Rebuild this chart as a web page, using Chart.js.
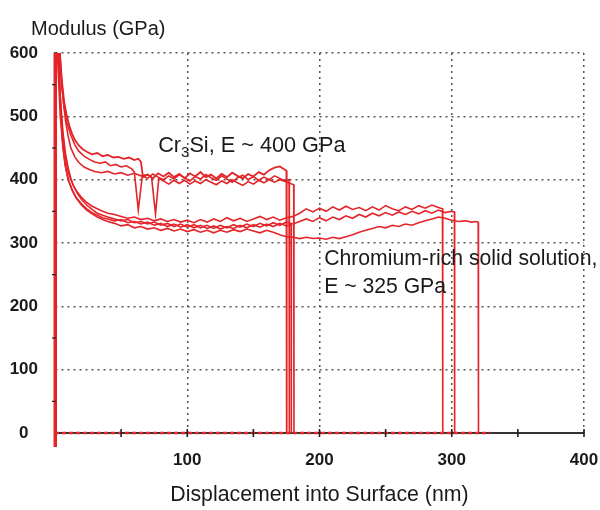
<!DOCTYPE html>
<html>
<head>
<meta charset="utf-8">
<script src="https://cdn.jsdelivr.net/npm/chart.js@4.4.1/dist/chart.umd.min.js"></script>
<style>
  html, body { margin: 0; padding: 0; background: #ffffff; }
  #wrap { width: 600px; height: 510px; position: relative; }
</style>
</head>
<body>
<div id="wrap"><canvas id="c" width="600" height="510"></canvas></div>
<script>
// ---- Text ----
const yTitle = 'Modulus (GPa)';
const xTitle = 'Displacement into Surface (nm)';
const noteCrMain = ['Cr', '3', 'Si, E ~ 400 GPa'];
const noteSolid = ['Chromium-rich solid solution,', 'E ~ 325 GPa'];
const noteCrAt = [78, 444];      // data coords (nm, GPa) of left baseline
const noteSolidAt = [203.5, 265, 221];

// ---- Axis ticks ----
const xTickValues = [100, 200, 300, 400];
const yTickValues = [0, 100, 200, 300, 400, 500, 600];
const xMinorMarks = [50, 100, 150, 200, 250, 300, 350, 400];
const yMinorMarks = [50, 150, 250, 350, 450, 550];

// ---- loading spike at the surface ----
const spikeX = [0.2, 0.2];
const spikeY = [-22, 700];

// ---- Cr3Si curves (~400 GPa) ----
const a1X = [1.2, 3, 5, 7, 9, 11, 13, 15, 18, 21, 24, 28, 32, 36, 40, 44, 48, 52, 56, 60, 63, 65, 66.5, 70, 74, 78, 82, 86, 90, 94, 98, 102, 106, 110, 114, 118, 122, 126, 130, 134, 138, 142, 146, 150, 154, 158, 162, 166, 170, 173, 175, 175.2];
const a1Y = [700, 620, 560, 522, 500, 484, 472, 463, 454, 448, 444, 440, 442, 437, 439, 435, 436, 433, 435, 431, 433, 428, 404, 408, 402, 410, 405, 411, 404, 409, 402, 410, 405, 412, 404, 408, 402, 409, 404, 411, 406, 402, 409, 405, 412, 408, 415, 419, 421, 417, 414, 0];
const a2X = [0.9, 3, 5, 7, 9, 12, 15, 18, 22, 26, 30, 34, 38, 42, 46, 50, 54, 58, 60, 63, 66, 70, 74, 78, 82, 86, 90, 94, 98, 102, 106, 110, 114, 118, 122, 126, 130, 134, 138, 142, 146, 150, 154, 158, 162, 166, 170, 174, 177, 177.2];
const a2Y = [700, 605, 550, 512, 490, 470, 455, 445, 437, 432, 428, 426, 428, 422, 424, 420, 422, 417, 412, 352, 406, 402, 409, 404, 400, 406, 401, 408, 403, 398, 405, 401, 408, 403, 399, 406, 401, 396, 403, 407, 400, 405, 399, 404, 400, 406, 402, 398, 400, 0];
const a3X = [2.5, 4, 6, 8, 10, 12, 15, 18, 22, 26, 30, 35, 40, 45, 50, 55, 60, 65, 70, 73, 76, 78.5, 82, 86, 90, 94, 98, 102, 106, 110, 114, 118, 122, 126, 130, 134, 138, 142, 146, 150, 154, 158, 162, 166, 170, 174, 178, 180.5, 180.7];
const a3Y = [700, 590, 530, 493, 468, 450, 436, 427, 420, 416, 413, 411, 413, 409, 411, 407, 410, 406, 408, 404, 346, 402, 398, 393, 399, 394, 399, 393, 398, 394, 400, 396, 392, 398, 394, 400, 395, 391, 397, 393, 399, 395, 400, 396, 400, 397, 394, 392, 0];

// ---- Chromium-rich solid solution curves (~325 GPa) ----
const b1X = [1, 2.5, 4, 6, 8, 10, 12, 14, 17, 20, 24, 28, 32, 36, 40, 45, 50, 55, 60, 65, 70, 75, 80, 85, 90, 95, 100, 105, 110, 115, 120, 125, 130, 135, 140, 145, 150, 155, 160, 165, 170, 175, 180, 185, 190, 195, 200, 205, 210, 215, 220, 225, 230, 235, 240, 245, 250, 255, 260, 265, 270, 275, 280, 285, 290, 293, 293.2];
const b1Y = [700, 610, 530, 475, 440, 418, 402, 390, 380, 372, 364, 358, 354, 350, 347, 345, 342, 339, 341, 337, 339, 335, 338, 334, 337, 333, 336, 332, 337, 333, 338, 334, 340, 335, 339, 334, 338, 342, 337, 341, 336, 340, 342, 347, 354, 349, 355, 350, 357, 352, 358, 353, 356, 351, 357, 352, 359, 354, 351, 357, 353, 359, 355, 360, 356, 354, 0];
const b2X = [1.5, 3, 5, 7, 9, 11, 14, 17, 20, 24, 28, 32, 36, 40, 45, 50, 55, 60, 65, 70, 75, 80, 85, 90, 95, 100, 105, 110, 115, 120, 125, 130, 135, 140, 145, 150, 155, 160, 165, 170, 175, 180, 185, 190, 195, 200, 205, 210, 215, 220, 225, 230, 235, 240, 245, 250, 255, 260, 265, 270, 275, 280, 285, 290, 295, 300, 302, 302.2];
const b2Y = [700, 570, 490, 448, 422, 405, 390, 378, 369, 360, 353, 347, 344, 341, 338, 335, 337, 332, 334, 330, 333, 328, 331, 326, 330, 325, 329, 324, 328, 323, 328, 324, 329, 325, 330, 326, 331, 327, 332, 328, 333, 330, 334, 338, 334, 340, 335, 341, 337, 343, 339, 345, 341, 347, 343, 348, 344, 349, 345, 350, 346, 351, 347, 352, 348, 350, 349, 0];
const b3X = [2, 3.5, 5.5, 7.5, 10, 13, 16, 20, 24, 28, 32, 36, 40, 45, 50, 55, 60, 65, 70, 75, 80, 85, 90, 95, 100, 105, 110, 115, 120, 125, 130, 135, 140, 145, 150, 155, 160, 165, 170, 175, 180, 185, 190, 195, 200, 205, 210, 215, 220, 225, 230, 235, 240, 245, 250, 255, 260, 265, 270, 275, 280, 285, 290, 295, 300, 305, 310, 315, 318, 320, 320.2];
const b3Y = [700, 545, 465, 425, 400, 383, 371, 360, 352, 346, 341, 337, 334, 331, 327, 329, 324, 326, 322, 324, 320, 323, 319, 322, 318, 321, 317, 320, 316, 320, 317, 321, 318, 322, 319, 316, 320, 317, 313, 310, 309, 307, 309, 307, 308, 306, 309, 307, 310, 313, 317, 320, 323, 326, 324, 328, 326, 330, 328, 332, 335, 338, 341, 339, 336, 334, 335, 333, 334, 333, 0];
const b4X = [1, 2, 4, 6, 8, 10, 13, 16, 20, 24, 28, 32, 36, 40, 45, 50, 55, 60, 65, 70, 75, 80, 85, 90, 95, 100, 105, 110, 115, 120, 125, 130, 135, 140, 145, 150, 155, 160, 165, 170, 175, 178.5, 178.7];
const b4Y = [700, 590, 500, 450, 420, 400, 384, 372, 362, 354, 348, 344, 340, 338, 335, 337, 332, 334, 330, 333, 328, 331, 326, 330, 325, 329, 324, 328, 323, 327, 322, 326, 323, 328, 324, 329, 325, 330, 326, 331, 327, 329, 0];

// ---- red trace lying on the zero line ----
const baseX = [0, 329];
const baseY = [0, 0];

const RED = 'rgb(228, 36, 40)';
const FONT = '"Liberation Sans", Arial, Helvetica, sans-serif';

function pts(xs, ys) { return xs.map((v, i) => ({ x: v, y: ys[i] })); }
function curve(xs, ys, w) {
  return {
    data: pts(xs, ys), borderColor: RED, borderWidth: w || 1.6,
    showLine: true, pointRadius: 0, tension: 0, fill: false,
    clip: { left: 6, top: 0, right: 0, bottom: 16 }
  };
}

const datasets = [
  Object.assign(curve(baseX, baseY, 2.4), { borderDash: [4, 3] }),
  curve(spikeX, spikeY, 3.5),
  curve(b4X, b4Y), curve(b3X, b3Y), curve(b2X, b2Y), curve(b1X, b1Y),
  curve(a3X, a3Y), curve(a2X, a2Y), curve(a1X, a1Y, 1.8)
];

const decor = {
  id: 'decor',
  afterDatasetsDraw(chart) {
    const { ctx, scales: { x, y } } = chart;
    ctx.save();
    ctx.strokeStyle = '#222';
    ctx.lineWidth = 1.6;
    const yb = y.getPixelForValue(0);
    xMinorMarks.forEach(v => {
      const px = x.getPixelForValue(v);
      ctx.beginPath(); ctx.moveTo(px, yb - 4); ctx.lineTo(px, yb + 4); ctx.stroke();
    });
    const xl = x.getPixelForValue(0);
    ctx.lineWidth = 1.2;
    yMinorMarks.forEach(v => {
      const py = y.getPixelForValue(v);
      ctx.beginPath(); ctx.moveTo(xl - 3, py); ctx.lineTo(xl + 1, py); ctx.stroke();
    });
    ctx.fillStyle = '#1a1a1a';
    ctx.textBaseline = 'alphabetic';
    ctx.textAlign = 'left';
    // y-axis heading
    ctx.font = '20px ' + FONT;
    ctx.fillText(yTitle, 31, 35);
    // Cr3Si note
    let px = x.getPixelForValue(noteCrAt[0]);
    const py = y.getPixelForValue(noteCrAt[1]);
    ctx.font = '21.7px ' + FONT;
    ctx.fillText(noteCrMain[0], px, py); px += ctx.measureText(noteCrMain[0]).width;
    ctx.font = '15px ' + FONT;
    ctx.fillText(noteCrMain[1], px, py + 5); px += ctx.measureText(noteCrMain[1]).width;
    ctx.font = '21.7px ' + FONT;
    ctx.fillText(noteCrMain[2], px, py);
    // solid solution note
    ctx.font = '21.2px ' + FONT;
    const sx = x.getPixelForValue(noteSolidAt[0]);
    ctx.fillText(noteSolid[0], sx, y.getPixelForValue(noteSolidAt[1]));
    ctx.fillText(noteSolid[1], sx, y.getPixelForValue(noteSolidAt[2]));
    ctx.restore();
  }
};

new Chart(document.getElementById('c'), {
  type: 'scatter',
  data: { datasets },
  plugins: [decor],
  options: {
    responsive: false,
    animation: false,
    devicePixelRatio: 1,
    layout: { padding: { top: 53, right: 16, bottom: 0, left: 0 } },
    plugins: { legend: { display: false }, tooltip: { enabled: false }, title: { display: false } },
    scales: {
      x: {
        type: 'linear', min: 0, max: 400,
        afterFit(s) { s.height = 77; s.paddingLeft = 0; s.paddingRight = 0; },
        afterBuildTicks(s) { s.ticks = [0].concat(xTickValues).map(v => ({ value: v })); },
        ticks: {
          padding: 17, color: '#1a1a1a',
          font: { family: FONT, size: 17, weight: 'bold' },
          callback: v => (xTickValues.includes(v) ? String(v) : ''),
          maxRotation: 0, autoSkip: false
        },
        grid: {
          drawTicks: false, lineWidth: 1.5,
          color: c => (c.tick && c.tick.value === 0 ? 'rgba(0,0,0,0)' : '#555'),
          borderDash: [2, 4]
        },
        border: { display: true, color: '#333', width: 2, dash: [2, 4] },
        title: { display: true, text: xTitle, color: '#1a1a1a', font: { family: FONT, size: 21.3 }, padding: { top: 0, bottom: 2 } }
      },
      y: {
        type: 'linear', min: 0, max: 600,
        afterFit(s) { s.width = 55; },
        afterBuildTicks(s) { s.ticks = yTickValues.map(v => ({ value: v })); },
        ticks: {
          padding: 17, crossAlign: 'center', color: '#1a1a1a',
          font: { family: FONT, size: 17, weight: 'bold' }
        },
        grid: {
          drawTicks: false, lineWidth: 1.5,
          color: c => (c.tick && c.tick.value === 0 ? 'rgba(0,0,0,0)' : '#555'),
          borderDash: [2, 4]
        },
        border: { display: true, color: '#333', width: 1.5, dash: [2, 4] }
      }
    }
  }
});
</script>
</body>
</html>
